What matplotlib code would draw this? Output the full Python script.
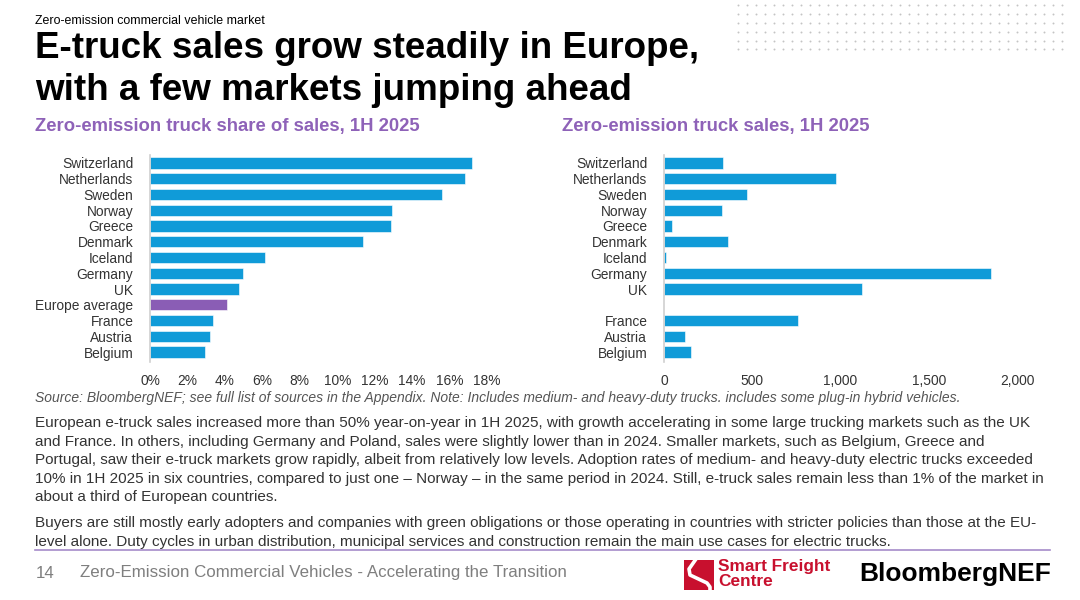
import matplotlib
matplotlib.use("Agg")
import matplotlib.pyplot as plt
from matplotlib.patches import Rectangle
from matplotlib.ticker import FuncFormatter

# ---------------- data ----------------
share_countries = ["Switzerland", "Netherlands", "Sweden", "Norway", "Greece", "Denmark",
                   "Iceland", "Germany", "UK", "Europe average", "France", "Austria", "Belgium"]
share_values = [17.2, 16.8, 15.6, 12.9, 12.85, 11.4, 6.15, 4.95, 4.75, 4.1, 3.35, 3.2, 2.95]

sales_countries = ["Switzerland", "Netherlands", "Sweden", "Norway", "Greece", "Denmark",
                   "Iceland", "Germany", "UK", "France", "Austria", "Belgium"]
sales_values = [336, 972, 469, 327, 47, 361, 11, 1851, 1123, 758, 117, 153]

share_ticks = [0, 2, 4, 6, 8, 10, 12, 14, 16, 18]
sales_ticks = [0, 500, 1000, 1500, 2000]

kicker = "Zero-emission commercial vehicle market"
title_lines = ["E-truck sales grow steadily in Europe,", "with a few markets jumping ahead"]
left_title = "Zero-emission truck share of sales, 1H 2025"
right_title = "Zero-emission truck sales, 1H 2025"
source = ("Source: BloombergNEF; see full list of sources in the Appendix. Note: Includes medium- and "
          "heavy-duty trucks. includes some plug-in hybrid vehicles.")
para1 = [
    "European e-truck sales increased more than 50% year-on-year in 1H 2025, with growth accelerating in some large trucking markets such as the UK",
    "and France. In others, including Germany and Poland, sales were slightly lower than in 2024. Smaller markets, such as Belgium, Greece and",
    "Portugal, saw their e-truck markets grow rapidly, albeit from relatively low levels. Adoption rates of medium- and heavy-duty electric trucks exceeded",
    "10% in 1H 2025 in six countries, compared to just one \u2013 Norway \u2013 in the same period in 2024. Still, e-truck sales remain less than 1% of the market in",
    "about a third of European countries.",
]
para2 = [
    "Buyers are still mostly early adopters and companies with green obligations or those operating in countries with stricter policies than those at the EU-",
    "level alone. Duty cycles in urban distribution, municipal services and construction remain the main use cases for electric trucks.",
]
footer = "Zero-Emission Commercial Vehicles - Accelerating the Transition"

# ---------------- styling ----------------
plt.rcParams["font.family"] = ["Liberation Sans", "DejaVu Sans"]

BLUE = "#109BD8"
PURPLE_BAR = "#8A5DB5"
PURPLE = "#8E62B8"
TXT = "#333333"
RED = "#C8102E"

W, H = 1080, 600
fig = plt.figure(figsize=(W / 100, H / 100), dpi=100)
fig.patch.set_facecolor("white")

def fx(px):
    return px / W

def fy(py):
    return 1 - py / H

# overlay for text in pixel coords
ov = fig.add_axes([0, 0, 1, 1])
ov.set_xlim(0, W)
ov.set_ylim(H, 0)
ov.axis("off")

# decorative dot grid (top right)
for yy in [5, 14, 23, 32, 41, 49]:
    xs = [738 + 9 * i for i in range(37)]
    ov.scatter(xs, [yy] * len(xs), s=2.0, color="#C4C4C4", linewidths=0, zorder=1)

ov.text(35, 21, kicker, fontsize=8.9, color="black", va="center", ha="left")
ov.text(35, 49, title_lines[0], fontsize=26.5, fontweight="bold", color="black", va="center", ha="left")
ov.text(35, 90, title_lines[1], fontsize=26.5, fontweight="bold", color="black", va="center", ha="left")
ov.text(35, 127, left_title, fontsize=13.3, fontweight="bold", color=PURPLE, va="center", ha="left")
ov.text(562, 127, right_title, fontsize=13.3, fontweight="bold", color=PURPLE, va="center", ha="left")

ov.text(35, 398, source, fontsize=10.0, style="italic", color="#555555", va="center", ha="left")
for i, line in enumerate(para1):
    ov.text(35, 423 + 18.6 * i, line, fontsize=10.95, color=TXT, va="center", ha="left")
for i, line in enumerate(para2):
    ov.text(35, 523 + 18.6 * i, line, fontsize=10.95, color=TXT, va="center", ha="left")

ov.plot([35, 1050], [550, 550], color="#A58BC9", lw=1.2)
ov.text(36, 573, "14", fontsize=12.2, color="#7F7F7F", va="center", ha="left")
ov.text(80, 573, footer, fontsize=12.2, color="#7F7F7F", va="center", ha="left")

# Smart Freight Centre logo
ov.add_patch(Rectangle((684, 560), 30, 30, facecolor=RED, edgecolor="none"))
ov.plot([696, 689, 690, 707, 710, 710], [559, 569, 575, 583, 587, 591], color="white", lw=2.6,
        solid_capstyle="butt", solid_joinstyle="round")
ov.text(718, 566, "Smart Freight", fontsize=12.4, fontweight="bold", color=RED, va="center", ha="left")
ov.text(718, 582, "Centre", fontsize=12.4, fontweight="bold", color=RED, va="center", ha="left")
ov.text(859, 574, "BloombergNEF", fontsize=19, fontweight="bold", color="black", va="center", ha="left")

# ---------------- charts ----------------
n = len(share_countries)
top_px, bot_px = 155, 360

def make_ax(x0, x1):
    ax = fig.add_axes([fx(x0), fy(bot_px), fx(x1 - x0), (bot_px - top_px) / H])
    ax.set_ylim(n - 0.5, -0.5)
    for s in ["top", "right", "bottom"]:
        ax.spines[s].set_visible(False)
    ax.spines["left"].set_color("#D0D0D0")
    ax.spines["left"].set_linewidth(1.2)
    ax.spines["left"].set_bounds(n - 0.35, -0.5)
    ax.tick_params(axis="both", length=0, labelsize=9.9, colors=TXT)
    ax.tick_params(axis="x", pad=10)
    ax.tick_params(axis="y", pad=12)
    ax.set_facecolor("none")
    return ax

axL = make_ax(150, 487)
ypos = list(range(n))
colors = [PURPLE_BAR if c == "Europe average" else BLUE for c in share_countries]
axL.barh(ypos, share_values, height=0.72, color=colors, edgecolor="white", linewidth=0.4)
axL.set_xlim(0, 18)
axL.set_xticks(share_ticks)
axL.xaxis.set_major_formatter(FuncFormatter(lambda v, p: f"{v:.0f}%"))
axL.set_yticks(ypos)
axL.set_yticklabels(share_countries)

axR = make_ax(664, 1017)
rpos = [share_countries.index(c) for c in sales_countries]
axR.barh(rpos, sales_values, height=0.72, color=BLUE, edgecolor="white", linewidth=0.4)
axR.set_xlim(0, 2000)
axR.set_xticks(sales_ticks)
axR.xaxis.set_major_formatter(FuncFormatter(lambda v, p: f"{v:,.0f}"))
axR.set_yticks(rpos)
axR.set_yticklabels(sales_countries)

fig.savefig("out.png", dpi=100, facecolor="white")
